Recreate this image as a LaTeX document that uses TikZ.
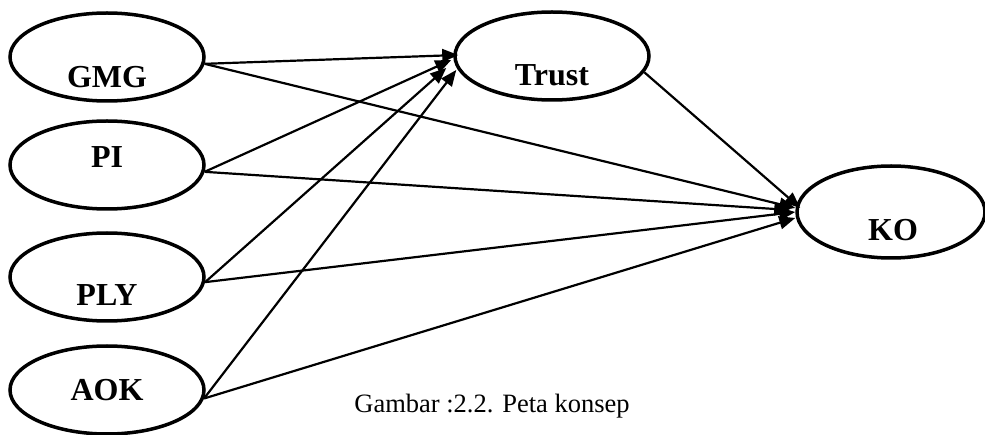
\documentclass[tikz,border=0pt]{standalone}
\usepackage{fontspec}
\setmainfont{Liberation Serif}
\usetikzlibrary{arrows.meta,shapes.geometric}

\tikzset{
  construct/.style={draw, ellipse, line width=3.5pt, inner sep=0pt,
    minimum width=194pt, minimum height=88pt},
  cname/.style={font=\fontsize{32}{38}\selectfont\bfseries, inner sep=0pt},
  link/.style={line width=2.2pt, -{Triangle[length=16pt, width=13pt]}},
  caption/.style={font=\fontsize{26.5}{32}\selectfont, inner sep=0pt}
}

\begin{document}
\begin{tikzpicture}[x=1pt, y=-1pt]
  \useasboundingbox (0,0) rectangle (985,435);

  % latent constructs
  \node[construct] (GMG)   at (107,57)  {};
  \node[construct] (PI)    at (107,165) {};
  \node[construct] (PLY)   at (107,277) {};
  \node[construct] (AOK)   at (107,390) {};
  \node[construct] (Trust) at (552,56)  {};
  \node[construct, minimum width=188pt, minimum height=92pt] (KO) at (891,212) {};

  % construct names
  \node[cname] (tGMG)   at (107,77)  {GMG};
  \node[cname] (tPI)    at (107,157) {PI};
  \node[cname] (tPLY)   at (107,295) {PLY};
  \node[cname] (tAOK)   at (107,390) {AOK};
  \node[cname] (tTrust) at (552,75)  {Trust};
  \node[cname] (tKO)    at (893,230) {KO};

  % paths into Trust
  \draw[link] (GMG.-4) -- ([shift={(5,-1)}]Trust.west);
  \draw[link] (PI.-4)  -- ([shift={(-2,4)}]Trust.west);
  \draw[link] (PLY.-3) -- ([shift={(-7,12)}]Trust.west);
  \draw[link] (AOK.-5) -- ([shift={(3,14)}]Trust.west);

  % paths into KO
  \draw[link] (Trust.-10) -- ([shift={(5,-4)}]KO.west);
  \draw[link] (GMG.-4) -- ([shift={(0,-4)}]KO.west);
  \draw[link] (PI.-4)  -- ([shift={(-5,-2)}]KO.west);
  \draw[link] (PLY.-3) -- ([shift={(0,0)}]KO.west);
  \draw[link] (AOK.-5) -- ([shift={(0,6)}]KO.west);

  % caption
  \node[caption] (cap) at (492,406) {Gambar :2.2. Peta konsep};
\end{tikzpicture}
\end{document}
